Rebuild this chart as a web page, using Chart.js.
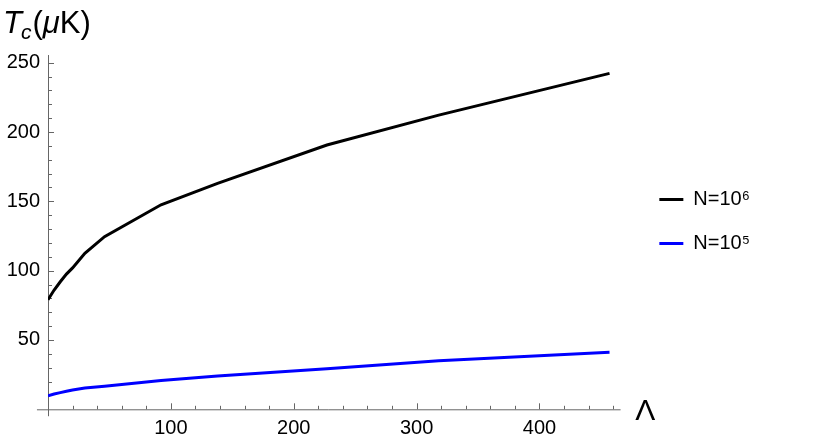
<!DOCTYPE html>
<html>
<head>
<meta charset="utf-8">
<script src="https://cdn.jsdelivr.net/npm/chart.js@4"></script>
<style>
  html, body { margin: 0; padding: 0; background: #fff; }
  #wrap { width: 830px; height: 443px; position: relative; }
</style>
</head>
<body>
<div id="wrap"><canvas id="myChart"></canvas></div>
<script>
// Values
const lambdaValues = [0, 5, 10, 15, 20, 30, 46, 92, 138, 227, 318, 457];
const tcMillion = [79, 86, 92, 97.5, 102, 112.5, 124.5, 147.5, 163, 190.6, 212.2, 242.3];
const tcHundredK = [9.8, 11, 12, 13, 13.9, 15.3, 16.6, 20.8, 24, 29.2, 35, 41.2];
const seriesNames = ["N=10\u2076", "N=10\u2075"];
const xTickLabels = [100, 200, 300, 400];
const yTickLabels = [50, 100, 150, 200, 250];

const FONT = "'Liberation Sans', Arial, sans-serif";
const AXIS_COLOR = "#666";

function toPoints(ys) {
  return lambdaValues.map((x, i) => ({ x: x, y: ys[i] }));
}

// Mathematica-like axes: lines crossing at the origin, inward ticks, minor ticks
const axesPlugin = {
  id: "mmaAxes",
  beforeDatasetsDraw(chart) {
    const { ctx, scales: { x, y } } = chart;
    const x0 = x.getPixelForValue(0);
    const y0 = y.getPixelForValue(0);
    ctx.save();
    ctx.strokeStyle = AXIS_COLOR;
    ctx.lineWidth = 1;
    ctx.beginPath();
    // axis lines
    ctx.moveTo(x.getPixelForValue(-9), y0 + 0.5);
    ctx.lineTo(x.getPixelForValue(466), y0 + 0.5);
    ctx.moveTo(x0 + 0.5, y.getPixelForValue(-5));
    ctx.lineTo(x0 + 0.5, y.getPixelForValue(255.5));
    // x ticks (minor every 20)
    for (let v = 20; v <= 460; v += 20) {
      const px = Math.round(x.getPixelForValue(v)) + 0.5;
      const len = v % 100 === 0 ? 6 : 3.5;
      ctx.moveTo(px, y0);
      ctx.lineTo(px, y0 - len);
    }
    // y ticks (minor every 10)
    for (let v = 10; v <= 250; v += 10) {
      const py = Math.round(y.getPixelForValue(v)) + 0.5;
      const len = v % 50 === 0 ? 6 : 4;
      ctx.moveTo(x0, py);
      ctx.lineTo(x0 + len, py);
    }
    ctx.stroke();
    ctx.restore();
  },
  afterDraw(chart) {
    const { ctx, scales: { x, y } } = chart;
    ctx.save();
    ctx.fillStyle = "#000";
    ctx.textBaseline = "alphabetic";
    // axis label on the y axis: T_c(μK)
    let cx = 3;
    const base = 33;
    ctx.font = "italic 31px " + FONT;
    ctx.fillText("T", cx, base);
    cx += ctx.measureText("T").width - 1;
    ctx.font = "italic 21px " + FONT;
    ctx.fillText("c", cx, base + 6);
    cx += ctx.measureText("c").width + 1;
    ctx.font = "31px " + FONT;
    ctx.fillText("(", cx, base);
    cx += ctx.measureText("(").width;
    ctx.font = "italic 31px " + FONT;
    ctx.fillText("\u03bc", cx, base);
    cx += ctx.measureText("\u03bc").width;
    ctx.font = "31px " + FONT;
    ctx.fillText("K)", cx, base);
    // axis label on the x axis: Λ
    ctx.font = "30px " + FONT;
    ctx.fillText("\u039b", x.getPixelForValue(478), y.getPixelForValue(0) + 11);
    ctx.restore();
  },
};

const ctx = document.getElementById("myChart");

new Chart(ctx, {
  type: "line",
  data: {
    datasets: [
      {
        label: seriesNames[0],
        data: toPoints(tcMillion),
        borderColor: "#000000",
        backgroundColor: "#000000",
        borderWidth: 3,
        pointRadius: 0,
        pointStyle: "line",
        tension: 0,
      },
      {
        label: seriesNames[1],
        data: toPoints(tcHundredK),
        borderColor: "#0000ff",
        backgroundColor: "#0000ff",
        borderWidth: 3,
        pointRadius: 0,
        pointStyle: "line",
        tension: 0,
      },
    ],
  },
  options: {
    responsive: true,
    maintainAspectRatio: false,
    animation: false,
    layout: {
      padding: { top: 0, right: 70, bottom: 0, left: 0 },
    },
    plugins: {
      tooltip: { enabled: false },
      legend: {
        position: "right",
        labels: {
          usePointStyle: true,
          pointStyleWidth: 24,
          padding: 24,
          color: "#000",
          font: { family: FONT, size: 20 },
        },
      },
    },
    scales: {
      x: {
        type: "linear",
        min: 0,
        max: 478,
        afterFit: (scale) => {
          scale.height = 33.7;
          scale.paddingLeft = 0;
          scale.paddingRight = 0;
        },
        afterBuildTicks: (scale) => {
          scale.ticks = xTickLabels.map((v) => ({ value: v }));
        },
        ticks: {
          color: "#000",
          padding: 7,
          maxRotation: 0,
          font: { family: FONT, size: 20 },
        },
        grid: { display: false, drawTicks: false },
        border: { display: false },
      },
      y: {
        min: 0,
        max: 295.2,
        afterFit: (scale) => {
          scale.width = 48;
          scale.paddingTop = 0;
          scale.paddingBottom = 0;
        },
        afterBuildTicks: (scale) => {
          scale.ticks = yTickLabels.map((v) => ({ value: v }));
        },
        ticks: {
          color: "#000",
          padding: 8,
          font: { family: FONT, size: 20 },
        },
        grid: { display: false, drawTicks: false },
        border: { display: false },
      },
    },
  },
  plugins: [axesPlugin],
});
</script>
</body>
</html>
